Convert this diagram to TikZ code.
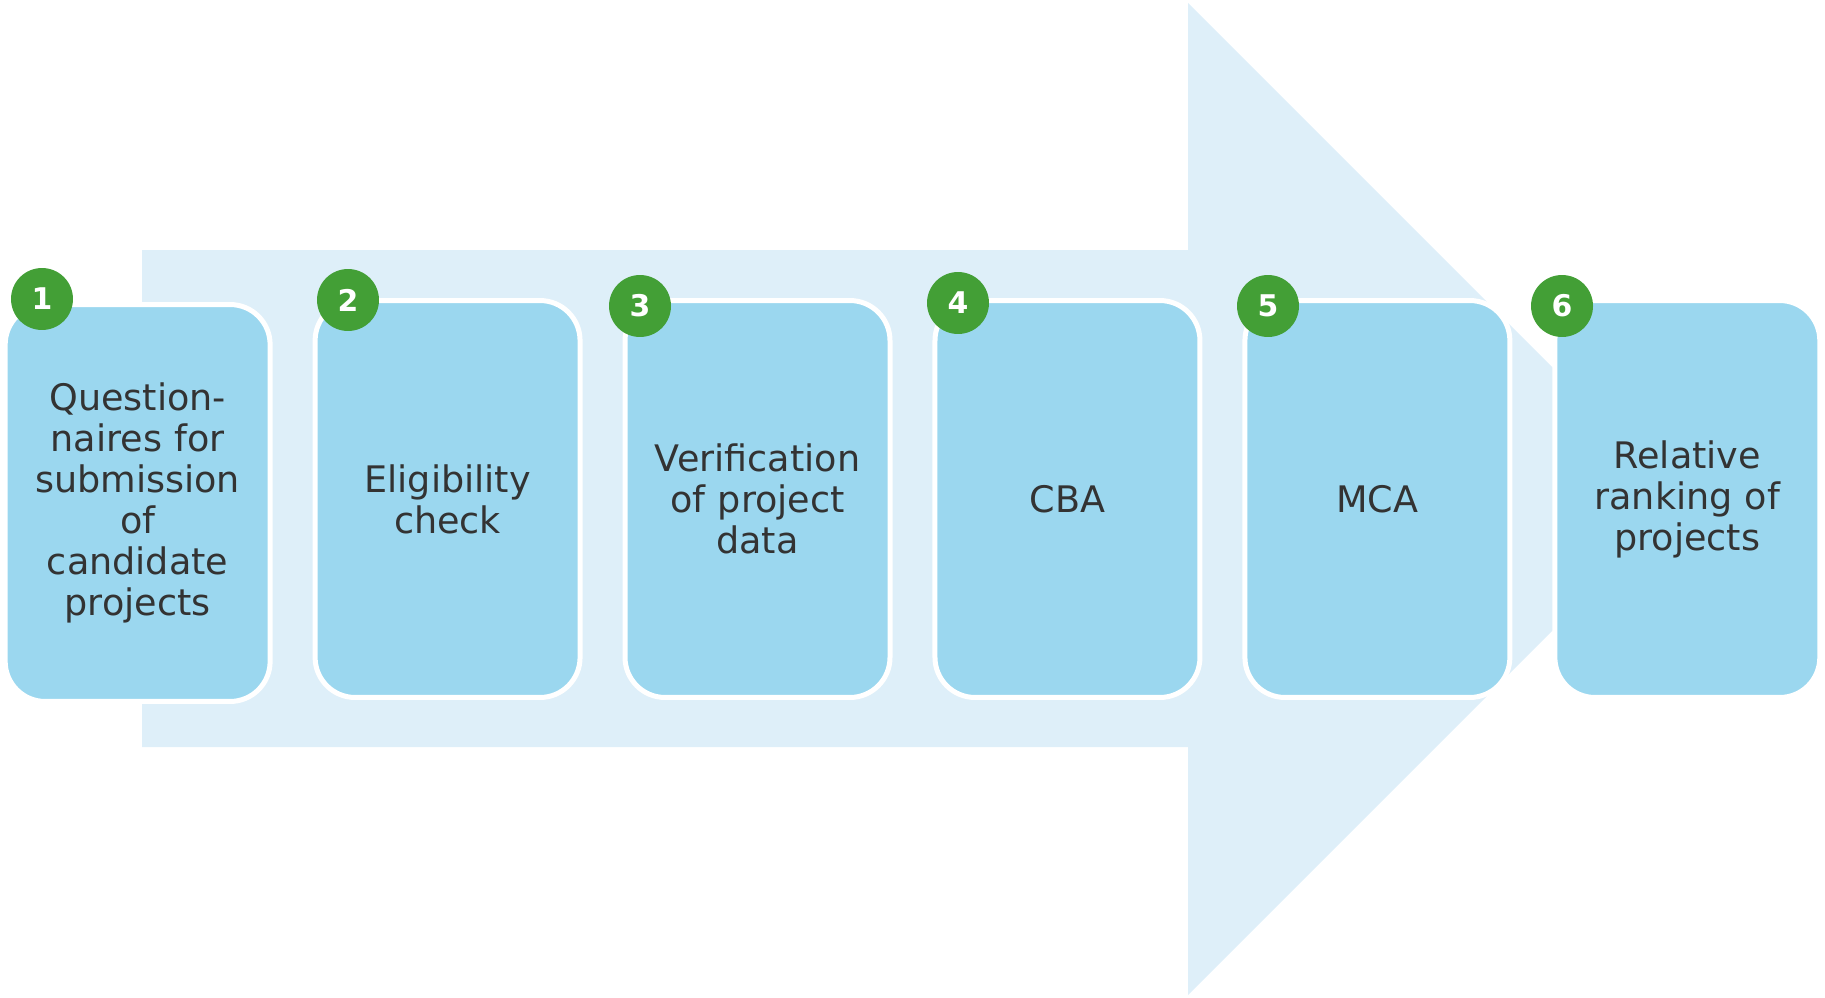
\documentclass[tikz,border=0pt]{standalone}
\usepackage{fontspec}
\setmainfont{DejaVu Sans}
\usetikzlibrary{shapes,arrows.meta,backgrounds}
\definecolor{arrowblue}{RGB}{222,239,249}
\definecolor{boxblue}{RGB}{155,215,239}
\definecolor{stepgreen}{RGB}{67,159,54}
\definecolor{txtgray}{RGB}{51,51,51}

\begin{document}
\begin{tikzpicture}[x=0.02cm,y=-0.02cm]
    \tikzstyle{stage} = [rectangle, rounded corners=0.8cm, fill=boxblue, draw=white, line width=0.1cm, minimum width=5.3cm, minimum height=7.94cm, text width=5cm, align=center, inner sep=0pt, outer sep=0pt, text=txtgray, font=\fontsize{20.8}{23.3}\selectfont]
    \tikzstyle{num} = [circle, fill=stepgreen, minimum size=1.24cm, inner sep=0pt, text=white, font=\fontsize{17}{17}\selectfont\bfseries]
    \useasboundingbox (0,0) rectangle (1825,997);
    % big arrow behind the stages
    \fill[arrowblue] (142,250) -- (1188,250) -- (1188,3) -- (1684,499) -- (1188,995) -- (1188,747) -- (142,747) -- cycle;
    \matrix[column sep=0.8cm, nodes={anchor=center}] at (912.5,501) {
    \node[stage, yshift=-0.08cm] (ques) {Question-\\naires for\\submission\\of\\candidate\\projects}; &
    \node[stage] (elig) {Eligibility\\check}; &
    \node[stage] (verif) {Verification\\of project\\data}; &
    \node[stage] (cba) {CBA}; &
    \node[stage] (mca) {MCA}; &
    \node[stage] (rank) {Relative\\ranking of\\projects}; \\
    };
    % step numbers
    \node[num] (n1) at (42,299) {1};
    \node[num] (n2) at (348,300) {2};
    \node[num] (n3) at (640,306) {3};
    \node[num] (n4) at (958,303) {4};
    \node[num] (n5) at (1268,306) {5};
    \node[num] (n6) at (1562,306) {6};
\end{tikzpicture}
\end{document}
